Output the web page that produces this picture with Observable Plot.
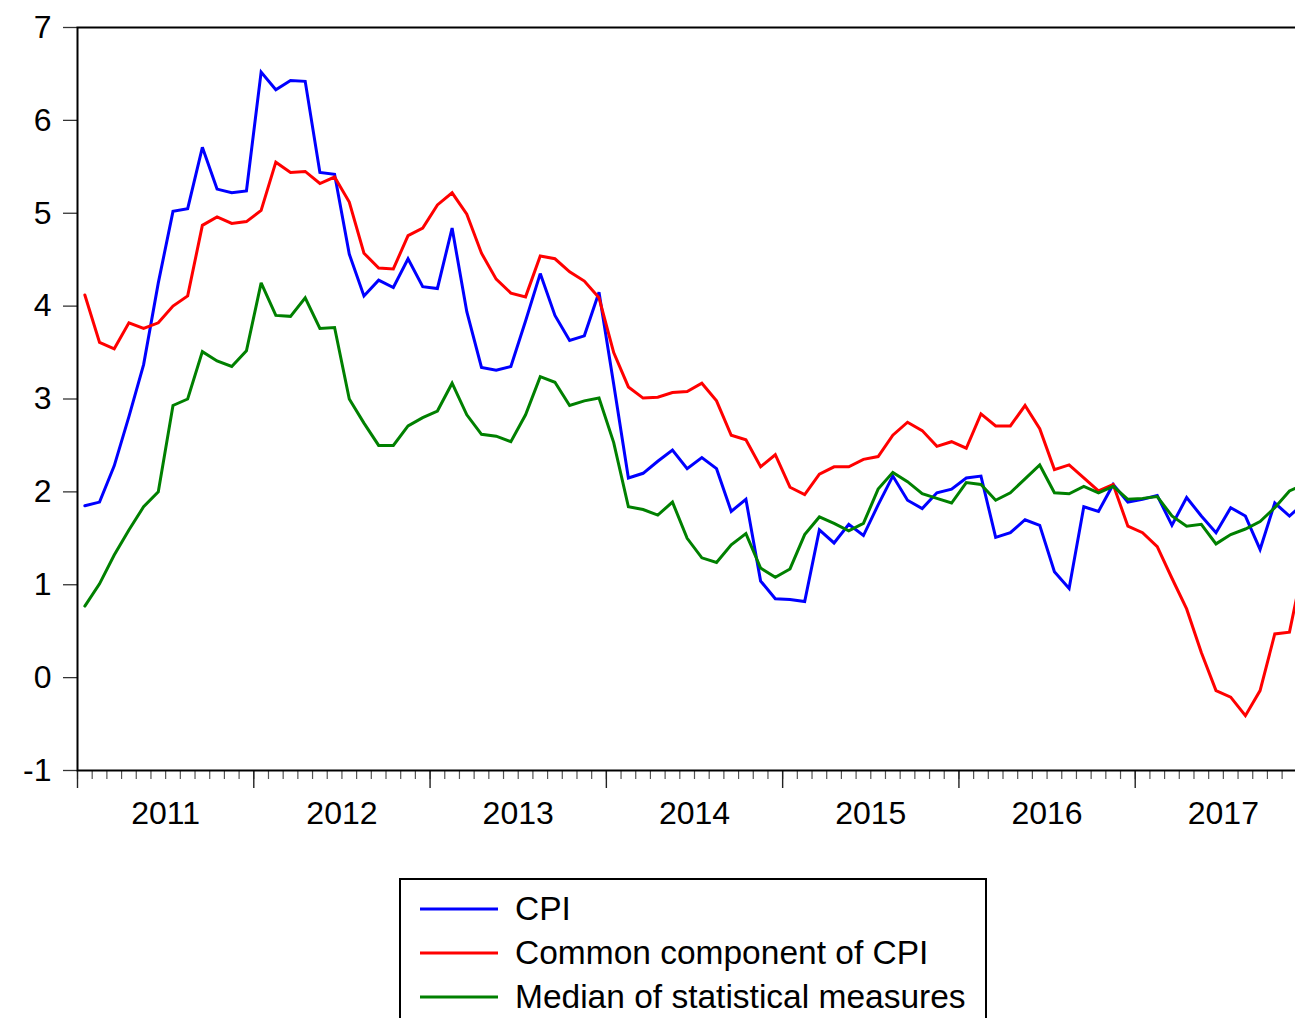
<!DOCTYPE html>
<html>
<head>
<meta charset="utf-8">
<script src="https://cdn.jsdelivr.net/npm/d3@7"></script>
<script src="https://cdn.jsdelivr.net/npm/@observablehq/plot@0.6"></script>
<style>
  html, body { margin: 0; padding: 0; overflow: hidden; background: #fff; width: 1295px; height: 1018px; }
  #chart { position: absolute; left: 0; top: 0; width: 1311px; }
  #chart svg { max-width: none !important; }
  #legend {
    position: absolute; left: 399px; top: 878px; width: 588px; height: 170px;
    border: 2px solid #000; box-sizing: border-box; background: #fff;
    font-family: "Liberation Sans", Arial, sans-serif; font-size: 33.5px; color: #000;
  }
  .item { position: absolute; left: 19px; height: 44px; display: flex; align-items: center; }
  .item svg { margin-right: 17px; }
</style>
</head>
<body>
<div id="chart"></div>
<div id="legend"></div>
<script>
// Monthly series, 2011m1 .. 2017m12
const startYear = 2011;
const seriesNames = ["CPI", "Common component of CPI", "Median of statistical measures"];
const seriesColors = ["#0000ff", "#ff0000", "#008000"];

const cpi = [1.85,1.89,2.28,2.81,3.37,4.25,5.02,5.05,5.71,5.26,5.22,5.24,
  6.52,6.33,6.43,6.42,5.44,5.42,4.56,4.11,4.28,4.20,4.51,4.21,
  4.19,4.84,3.94,3.34,3.31,3.35,3.84,4.35,3.90,3.63,3.68,4.15,
  3.16,2.15,2.20,2.33,2.45,2.25,2.37,2.25,1.79,1.92,1.04,0.85,
  0.84,0.82,1.59,1.45,1.65,1.53,1.86,2.17,1.91,1.82,1.99,2.03,
  2.15,2.17,1.51,1.56,1.70,1.64,1.14,0.96,1.84,1.79,2.08,1.89,
  1.92,1.96,1.64,1.94,1.74,1.56,1.83,1.74,1.38,1.88,1.74,1.88];

const common = [4.12,3.61,3.54,3.82,3.76,3.82,4.00,4.11,4.87,4.96,4.89,4.91,
  5.03,5.55,5.44,5.45,5.32,5.39,5.12,4.57,4.41,4.40,4.76,4.84,
  5.09,5.22,4.99,4.57,4.29,4.14,4.10,4.54,4.51,4.37,4.27,4.09,
  3.50,3.13,3.01,3.02,3.07,3.08,3.17,2.98,2.61,2.56,2.27,2.40,
  2.05,1.97,2.19,2.27,2.27,2.35,2.38,2.61,2.75,2.66,2.49,2.54,
  2.47,2.84,2.71,2.71,2.93,2.68,2.24,2.29,2.15,2.01,2.08,1.63,
  1.56,1.41,1.07,0.74,0.27,-0.14,-0.21,-0.41,-0.14,0.47,0.49,1.25];

const median = [0.77,1.01,1.32,1.59,1.84,2.00,2.93,3.00,3.51,3.41,3.35,3.52,
  4.25,3.90,3.89,4.09,3.76,3.77,3.00,2.74,2.50,2.50,2.71,2.80,
  2.87,3.17,2.83,2.62,2.60,2.54,2.83,3.24,3.18,2.93,2.98,3.01,
  2.53,1.84,1.81,1.75,1.89,1.50,1.29,1.24,1.43,1.55,1.18,1.08,
  1.17,1.54,1.73,1.66,1.58,1.66,2.03,2.21,2.11,1.98,1.93,1.88,
  2.10,2.08,1.91,1.99,2.14,2.29,1.99,1.98,2.06,1.99,2.06,1.92,
  1.93,1.95,1.74,1.63,1.65,1.44,1.54,1.60,1.68,1.83,2.01,2.08];

const yTicks = [-1, 0, 1, 2, 3, 4, 5, 6, 7];
const yearLabels = [2011, 2012, 2013, 2014, 2015, 2016, 2017];

// build long table (x = fractional year at month centre)
const allSeries = [cpi, common, median];
const rows = [];
allSeries.forEach((vals, s) => {
  vals.forEach((v, i) => rows.push({t: startYear + (i + 0.5) / 12, v, series: seriesNames[s]}));
});
const nMonths = cpi.length;
const endYear = startYear + nMonths / 12;
const monthTicks = d3.range(0, nMonths + 1).map(k => startYear + k / 12);
const yearTicks = d3.range(startYear, endYear + 1);
const yearMids = yearLabels.map(y => y + 0.5);

const font = "'Liberation Sans', Arial, sans-serif";

const chart = Plot.plot({
  width: 1311,
  height: 840,
  marginLeft: 77,
  marginRight: 0,
  marginTop: 27,
  marginBottom: 70,
  style: {fontFamily: font, color: "#000", background: "#fff", overflow: "visible", maxWidth: "none"},
  x: {domain: [startYear, endYear], label: null},
  y: {domain: [-1, 7], label: null},
  color: {domain: seriesNames, range: seriesColors},
  marks: [
    Plot.axisY({ticks: yTicks, tickSize: 14, tickPadding: 12, fontSize: 32, tickFormat: d => String(d), stroke: "#333", strokeWidth: 1.3}),
    Plot.axisX({ticks: monthTicks, tickSize: 9, tickFormat: () => "", stroke: "#555", strokeWidth: 1.2}),
    Plot.axisX({ticks: yearTicks, tickSize: 18, tickFormat: () => "", stroke: "#222", strokeWidth: 1.4}),
    Plot.axisX({ticks: yearMids, tickSize: 0, tickPadding: 31, fontSize: 32, tickFormat: d => String(Math.floor(d))}),
    Plot.line(rows, {x: "t", y: "v", z: "series", stroke: "series", strokeWidth: 3, strokeLinejoin: "miter", strokeMiterlimit: 3}),
    Plot.frame({stroke: "#000", strokeWidth: 2})
  ]
});
document.getElementById("chart").appendChild(chart);

// legend
const legend = document.getElementById("legend");
seriesNames.forEach((name, i) => {
  const div = document.createElement("div");
  div.className = "item";
  div.style.top = (7 + i * 44) + "px";
  div.innerHTML = `<svg width="78" height="6"><line x1="0" x2="78" y1="3" y2="3" stroke="${seriesColors[i]}" stroke-width="3"/></svg><span>${name}</span>`;
  legend.appendChild(div);
});
</script>
</body>
</html>
